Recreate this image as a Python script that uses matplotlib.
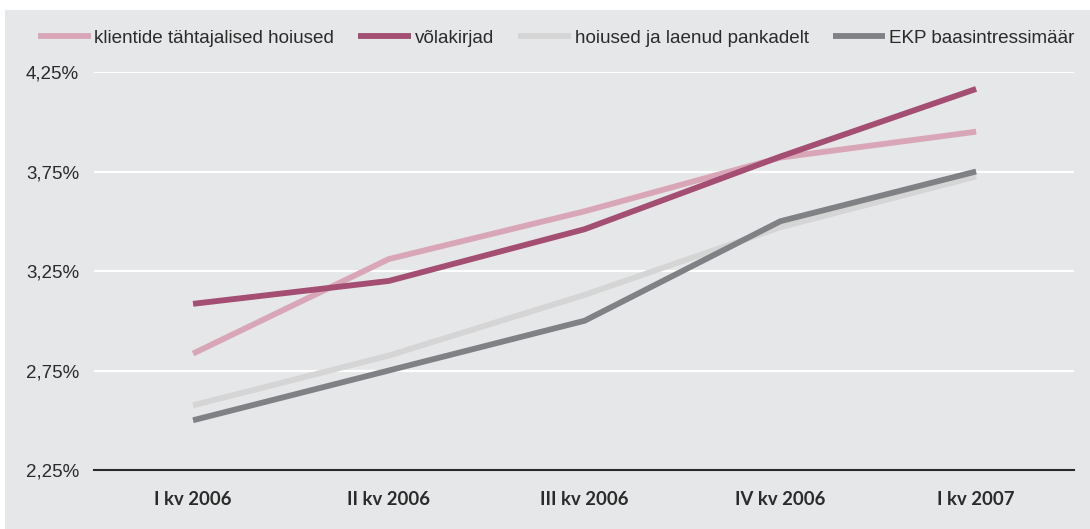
import matplotlib
matplotlib.use("Agg")
from matplotlib import pyplot as plt
from matplotlib.patches import Rectangle

quarters = ["I kv 2006", "II kv 2006", "III kv 2006", "IV kv 2006", "I kv 2007"]
klientide = [2.835, 3.31, 3.55, 3.82, 3.95]
volakirjad = [3.085, 3.20, 3.46, 3.825, 4.165]
pankadelt = [2.575, 2.825, 3.13, 3.47, 3.725]
ekp = [2.5, 2.75, 3.0, 3.5, 3.75]

labels = ["klientide tähtajalised hoiused", "võlakirjad",
          "hoiused ja laenud pankadelt", "EKP baasintressimäär"]
colors = ["#d9a6b7", "#a34e72", "#d5d5d6", "#808184"]
yticks = [2.25, 2.75, 3.25, 3.75, 4.25]

bg = "#e6e7e8"
plt.rcParams['font.family'] = ['Liberation Sans', 'DejaVu Sans']

fig = plt.figure(figsize=(10.9, 5.29), dpi=100)
fig.patch.set_facecolor("white")
fig.patches.append(Rectangle((5 / 1090, 0), 1, 1 - 10 / 529, transform=fig.transFigure,
                             facecolor=bg, edgecolor="none", zorder=-10))

ax = fig.add_axes([94 / 1090, 1 - 470 / 529, (1074 - 94) / 1090, (470 - 72) / 529])
ax.set_facecolor(bg)

x = range(len(quarters))
for series, c, lab in zip([klientide, volakirjad, pankadelt, ekp], colors, labels):
    ax.plot(x, series, color=c, lw=4.2, label=lab, solid_capstyle="butt", solid_joinstyle="miter")

ax.set_ylim(2.25, 4.25)
ax.set_xlim(-0.506, 4.50)
ax.set_yticks(yticks)
ax.set_yticklabels([f"{v:.2f}%".replace(".", ",") for v in yticks], fontsize=13.5, color="#2b2b2b")
ax.set_xticks(list(x))
ax.set_xticklabels(quarters, fontsize=13.3, fontweight="bold", family="Lato", color="#2b2b2b")
ax.tick_params(axis="y", length=0, pad=10.8)
ax.tick_params(axis="x", length=0, pad=15)
ax.grid(axis="y", color="white", lw=1.5)
ax.set_axisbelow(True)
for s in ["top", "right", "left"]:
    ax.spines[s].set_visible(False)
ax.spines["bottom"].set_color("#2a2a2a")
ax.spines["bottom"].set_linewidth(1.5)
ax.spines["bottom"].set_zorder(5)

leg = fig.legend(loc="center left", bbox_to_anchor=(38 / 1090, 1 - 38 / 529), ncol=4,
                 frameon=False, fontsize=13.6, handlelength=2.8, handletextpad=0.19,
                 columnspacing=1.27, borderaxespad=0, borderpad=0)
for t in leg.get_texts():
    t.set_color("#2b2b2b")

fig.savefig("out.png", dpi=100, facecolor=fig.get_facecolor())
